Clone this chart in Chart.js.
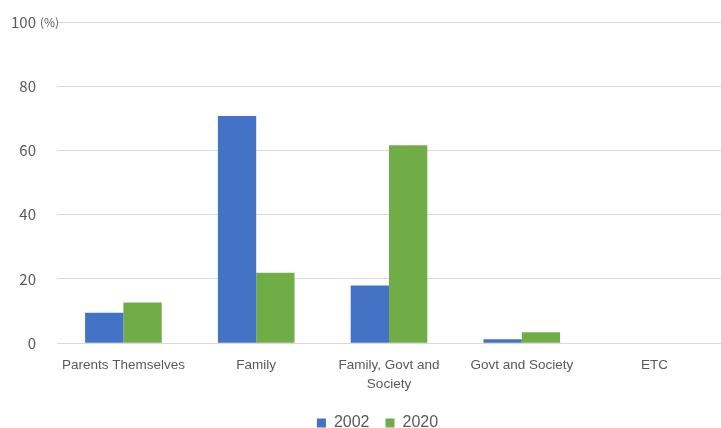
<!DOCTYPE html>
<html>
<head>
<meta charset="utf-8">
<script src="https://cdn.jsdelivr.net/npm/chart.js@4/dist/chart.umd.min.js"></script>
<style>
  html, body { margin: 0; padding: 0; background: #fff; overflow: hidden; }
  #wrap { width: 721px; height: 428px; }
</style>
</head>
<body>
<div id="wrap"><canvas id="chart" width="721" height="428"></canvas></div>
<script>
const categories = [
  "Parents Themselves",
  "Family",
  ["Family, Govt and", "Society"],
  "Govt and Society",
  "ETC"
];
const seriesNames = ["2002", "2020"];
const values2002 = [9.5, 70.7, 18, 1.2, 0];
const values2020 = [12.7, 21.9, 61.6, 3.4, 0];
const yTicks = [0, 20, 40, 60, 80, 100];

const tickColor = "#595959";
const gridColor = "#d9d9d9";

// "(%)" unit after the 100 tick
const unitLabel = {
  id: "unitLabel",
  afterDraw(chart) {
    const y = chart.scales.y;
    const ctx = chart.ctx;
    const py = y.getPixelForValue(100);
    ctx.save();
    ctx.font = "12px 'Noto Sans CJK KR', 'Noto Sans'";
    ctx.fillStyle = tickColor;
    ctx.textBaseline = "middle";
    ctx.textAlign = "left";
    ctx.fillText("(%)", 40, py);
    ctx.restore();
  }
};

// legend sits a bit right of centre in the original
const legendShift = {
  id: "legendShift",
  afterLayout(chart) {
    chart.legend.left += 17;
    chart.legend.right += 17;
  }
};

new Chart(document.getElementById("chart"), {
  type: "bar",
  data: {
    labels: categories,
    datasets: [
      {
        label: seriesNames[0],
        data: values2002,
        backgroundColor: "#4472C4",
        categoryPercentage: 0.577,
        barPercentage: 1.0
      },
      {
        label: seriesNames[1],
        data: values2020,
        backgroundColor: "#70AD47",
        categoryPercentage: 0.577,
        barPercentage: 1.0
      }
    ]
  },
  options: {
    responsive: false,
    animation: false,
    layout: { padding: { top: 22, right: 0, left: 0, bottom: -13 } },
    plugins: {
      legend: {
        position: "bottom",
        labels: {
          boxWidth: 9,
          boxHeight: 9,
          padding: 16,
          color: tickColor,
          font: { family: "'Liberation Sans', Arial", size: 16 }
        }
      },
      tooltip: { enabled: false }
    },
    scales: {
      x: {
        grid: { display: false },
        border: { color: gridColor },
        ticks: {
          color: tickColor,
          maxRotation: 0,
          autoSkip: false,
          padding: 5,
          font: { family: "'Liberation Sans', Arial", size: 13.5, lineHeight: 1.4 }
        }
      },
      y: {
        min: 0,
        max: 100,
        afterBuildTicks(scale) {
          scale.ticks = yTicks.map(v => ({ value: v }));
        },
        afterFit(scale) {
          scale.width = 57;
          scale.paddingTop = 0;
          scale.paddingBottom = 0;
        },
        grid: { color: gridColor, drawTicks: false },
        border: { display: false },
        ticks: {
          color: tickColor,
          padding: 21,
          font: { family: "'Noto Sans CJK KR', 'Noto Sans'", size: 15 }
        }
      }
    }
  },
  plugins: [unitLabel, legendShift]
});
</script>
</body>
</html>
